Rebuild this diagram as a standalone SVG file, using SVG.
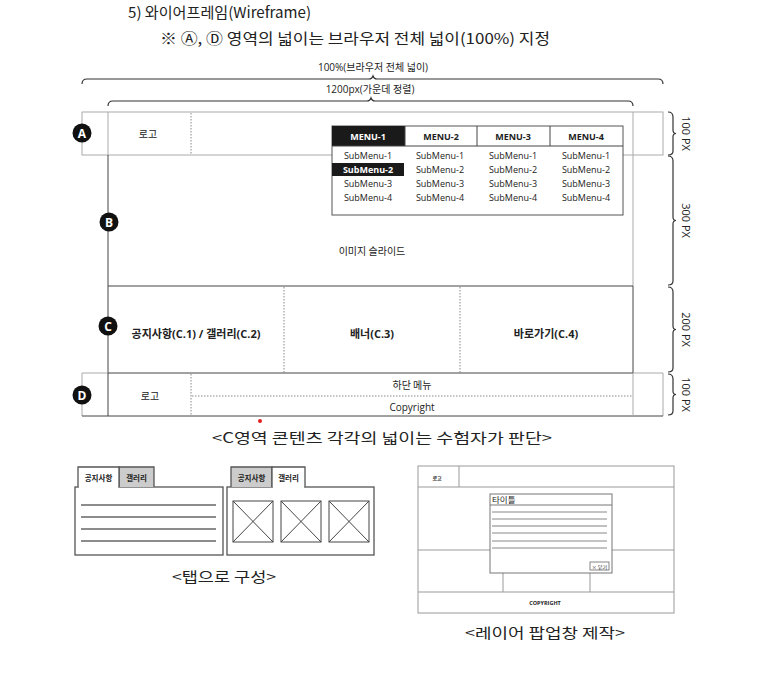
<svg xmlns="http://www.w3.org/2000/svg" width="765" height="687" viewBox="0 0 765 687">
<style>
.k{font-family:"Noto Sans CJK KR","Noto Sans",sans-serif;fill:#222}
.s{font-family:"Open Sans","Noto Sans CJK KR",sans-serif;fill:#222}
.b{font-weight:bold}
.lg{stroke:#aaa;fill:none;stroke-width:1}
.dk{stroke:#444;fill:none;stroke-width:1}
.dot{stroke:#888;fill:none;stroke-width:1;stroke-dasharray:1.5 1.5}
.br{stroke:#333;fill:none;stroke-width:1.2}
.circ{fill:#111}
.cl{font-family:"Open Sans","Noto Sans",sans-serif;font-weight:bold;fill:#fff;font-size:12px}
.ln{stroke:#666;stroke-width:1.5}
.pp{stroke:#999;fill:none;stroke-width:1}
</style>
<rect width="765" height="687" fill="#fff"/>

<!-- headings -->
<text class="k" x="128" y="18" font-size="15" textLength="183" lengthAdjust="spacingAndGlyphs">5) 와이어프레임(Wireframe)</text>
<text class="k" x="160" y="44" font-size="15" textLength="390" lengthAdjust="spacingAndGlyphs">※ Ⓐ, Ⓓ 영역의 넓이는 브라우저 전체 넓이(100%) 지정</text>

<!-- top dimension braces -->
<g id="dims-top">
<text class="s" x="373" y="71" font-size="10" text-anchor="middle">100%(브라우저 전체 넓이)</text>
<path class="br" d="M82,84 Q82,79 87,79 L369,79 Q372,79 373,76 Q374,79 377,79 L658,79 Q663,79 663,84"/>
<text class="s" x="370" y="93" font-size="10" text-anchor="middle">1200px(가운데 정렬)</text>
<path class="br" d="M108,106 Q108,101 113,101 L367,101 Q370,101 371,98 Q372,101 375,101 L628,101 Q633,101 633,106"/>
</g>

<!-- region A -->
<g id="region-a">
<rect class="lg" x="82" y="112" width="581" height="43"/>
<line class="lg" x1="108" y1="112" x2="108" y2="155"/>
<line class="lg" x1="633" y1="112" x2="633" y2="155"/>
<line class="dot" x1="191" y1="113" x2="191" y2="155"/>
<text class="k" x="148" y="138" font-size="10" text-anchor="middle">로고</text>
</g>

<!-- region B -->
<g id="region-b">
<line class="dk" x1="108" y1="155" x2="108" y2="286"/>
<line class="lg" x1="633" y1="155" x2="633" y2="286"/>
<text class="k" x="372" y="255" font-size="10" text-anchor="middle">이미지 슬라이드</text>
</g>

<!-- menu -->
<g id="menu">
<rect x="332" y="126" width="291" height="89" fill="#fff" stroke="#555"/>
<rect x="332" y="126" width="73" height="20" fill="#1a1a1a"/>
<line class="dk" x1="332" y1="146" x2="623" y2="146"/>
<line class="dk" x1="405" y1="126" x2="405" y2="146"/>
<line class="dk" x1="477" y1="126" x2="477" y2="146"/>
<line class="dk" x1="550" y1="126" x2="550" y2="146"/>
<text class="s b" x="368" y="140" font-size="9" text-anchor="middle" style="fill:#fff">MENU-1</text>
<text class="s b" x="441" y="140" font-size="9" text-anchor="middle">MENU-2</text>
<text class="s b" x="513" y="140" font-size="9" text-anchor="middle">MENU-3</text>
<text class="s b" x="586" y="140" font-size="9" text-anchor="middle">MENU-4</text>
<rect x="332" y="163" width="72" height="13" fill="#1a1a1a"/>
<g font-size="9">
<text class="s" x="368" y="159" text-anchor="middle">SubMenu-1</text>
<text class="s b" x="368" y="173" text-anchor="middle" style="fill:#fff">SubMenu-2</text>
<text class="s" x="368" y="187" text-anchor="middle">SubMenu-3</text>
<text class="s" x="368" y="201" text-anchor="middle">SubMenu-4</text>
<text class="s" x="440" y="159" text-anchor="middle">SubMenu-1</text>
<text class="s" x="440" y="173" text-anchor="middle">SubMenu-2</text>
<text class="s" x="440" y="187" text-anchor="middle">SubMenu-3</text>
<text class="s" x="440" y="201" text-anchor="middle">SubMenu-4</text>
<text class="s" x="513" y="159" text-anchor="middle">SubMenu-1</text>
<text class="s" x="513" y="173" text-anchor="middle">SubMenu-2</text>
<text class="s" x="513" y="187" text-anchor="middle">SubMenu-3</text>
<text class="s" x="513" y="201" text-anchor="middle">SubMenu-4</text>
<text class="s" x="586" y="159" text-anchor="middle">SubMenu-1</text>
<text class="s" x="586" y="173" text-anchor="middle">SubMenu-2</text>
<text class="s" x="586" y="187" text-anchor="middle">SubMenu-3</text>
<text class="s" x="586" y="201" text-anchor="middle">SubMenu-4</text>
</g>
</g>

<!-- region C -->
<g id="region-c">
<line class="dk" x1="108" y1="286" x2="633" y2="286"/>
<line class="dk" x1="108" y1="286" x2="108" y2="373"/>
<line class="dk" x1="633" y1="286" x2="633" y2="373"/>
<line class="dot" x1="284" y1="287" x2="284" y2="373"/>
<line class="dot" x1="460" y1="287" x2="460" y2="373"/>
<text class="s b" x="196" y="338" font-size="11" text-anchor="middle">공지사항(C.1) / 갤러리(C.2)</text>
<text class="s b" x="372" y="338" font-size="11" text-anchor="middle">배너(C.3)</text>
<text class="s b" x="546" y="338" font-size="11" text-anchor="middle">바로가기(C.4)</text>
</g>

<!-- region D -->
<g id="region-d">
<line class="dk" x1="108" y1="373" x2="633" y2="373"/>
<line class="lg" x1="82" y1="373" x2="108" y2="373"/>
<line class="lg" x1="633" y1="373" x2="663" y2="373"/>
<line class="lg" x1="82" y1="373" x2="82" y2="416"/>
<line class="lg" x1="663" y1="373" x2="663" y2="416"/>
<line class="dk" x1="82" y1="416" x2="663" y2="416"/>
<line class="dk" x1="108" y1="373" x2="108" y2="416"/>
<line class="lg" x1="633" y1="373" x2="633" y2="416"/>
<line class="dot" x1="191" y1="374" x2="191" y2="416"/>
<line class="dot" x1="192" y1="396" x2="633" y2="396"/>
<text class="k" x="150" y="400" font-size="10" text-anchor="middle">로고</text>
<text class="k" x="412" y="389" font-size="10" text-anchor="middle">하단 메뉴</text>
<text class="s" x="412" y="411" font-size="10" text-anchor="middle">Copyright</text>
</g>

<!-- markers -->
<g id="marker-a"><circle class="circ" cx="82" cy="133" r="9.5"/><text class="cl" x="82" y="137.5" text-anchor="middle">A</text></g>
<g id="marker-b"><circle class="circ" cx="109" cy="222" r="9.5"/><text class="cl" x="109" y="226.5" text-anchor="middle">B</text></g>
<g id="marker-c"><circle class="circ" cx="108" cy="326" r="9.5"/><text class="cl" x="108" y="330.5" text-anchor="middle">C</text></g>
<g id="marker-d"><circle class="circ" cx="82" cy="395" r="9.5"/><text class="cl" x="82" y="399.5" text-anchor="middle">D</text></g>

<!-- right braces -->
<g id="dims-right">
<path class="br" d="M668,112 Q673,112 673,117 L673,130 Q673,133.5 676,133.5 Q673,133.5 673,137 L673,151 Q673,155 668,155"/>
<path class="br" d="M668,156 Q673,156 673,161 L673,217 Q673,220.5 676,220.5 Q673,220.5 673,224 L673,281 Q673,285 668,285"/>
<path class="br" d="M668,287 Q673,287 673,292 L673,326 Q673,329.5 676,329.5 Q673,329.5 673,333 L673,368 Q673,372 668,372"/>
<path class="br" d="M668,374 Q673,374 673,379 L673,391 Q673,394.5 676,394.5 Q673,394.5 673,398 L673,411 Q673,415 668,415"/>
<g font-size="11">
<text class="s" transform="translate(682,133.5) rotate(90)" text-anchor="middle">100 PX</text>
<text class="s" transform="translate(682,220.5) rotate(90)" text-anchor="middle">300 PX</text>
<text class="s" transform="translate(682,329.5) rotate(90)" text-anchor="middle">200 PX</text>
<text class="s" transform="translate(682,394.5) rotate(90)" text-anchor="middle">100 PX</text>
</g>
</g>

<circle cx="260" cy="421" r="2" fill="#e02020"/>
<text class="k" x="382" y="443" font-size="14" text-anchor="middle" textLength="340" lengthAdjust="spacingAndGlyphs">&lt;C영역 콘텐츠 각각의 넓이는 수험자가 판단&gt;</text>

<!-- tab panel 1 -->
<g id="tab-notice">
<rect x="75" y="487" width="148" height="68" fill="#fff" stroke="#555" stroke-width="1.3"/>
<path d="M119,487 L119,467 L154,467 L154,487" fill="#ccc" stroke="#555" stroke-width="1.3"/>
<path d="M78,487 L78,467 L119,467 L119,487" fill="#fff" stroke="#555" stroke-width="1.3"/>
<line x1="79" y1="487" x2="118" y2="487" stroke="#fff" stroke-width="2"/>
<text class="k b" x="98.5" y="481" font-size="7.5" text-anchor="middle">공지사항</text>
<text class="k b" x="136.5" y="481" font-size="7.5" text-anchor="middle">갤러리</text>
<line class="ln" x1="81" y1="505" x2="216" y2="505"/>
<line class="ln" x1="81" y1="517" x2="216" y2="517"/>
<line class="ln" x1="81" y1="529" x2="216" y2="529"/>
<line class="ln" x1="81" y1="541" x2="216" y2="541"/>
</g>

<!-- tab panel 2 -->
<g id="tab-gallery">
<rect x="227" y="487" width="147" height="68" fill="#fff" stroke="#555" stroke-width="1.3"/>
<path d="M231,487 L231,467 L272,467 L272,487" fill="#ccc" stroke="#555" stroke-width="1.3"/>
<path d="M272,487 L272,467 L305,467 L305,487" fill="#fff" stroke="#555" stroke-width="1.3"/>
<line x1="273" y1="487" x2="304" y2="487" stroke="#fff" stroke-width="2"/>
<text class="k b" x="251.5" y="481" font-size="7.5" text-anchor="middle">공지사항</text>
<text class="k b" x="288.5" y="481" font-size="7.5" text-anchor="middle">갤러리</text>
<g stroke="#444" stroke-width="1" fill="none">
<rect x="233" y="501" width="40" height="41"/><path d="M233,501 L273,542 M273,501 L233,542"/>
<rect x="281" y="501" width="40" height="41"/><path d="M281,501 L321,542 M321,501 L281,542"/>
<rect x="329" y="501" width="40" height="41"/><path d="M329,501 L369,542 M369,501 L329,542"/>
</g>
</g>
<text class="k" x="224" y="582" font-size="14" text-anchor="middle" textLength="104" lengthAdjust="spacingAndGlyphs">&lt;탭으로 구성&gt;</text>

<!-- layer popup mockup -->
<g id="popup-mock">
<rect class="pp" x="418" y="466" width="256" height="147"/>
<line class="pp" x1="418" y1="487" x2="674" y2="487"/>
<line class="pp" x1="459" y1="466" x2="459" y2="487"/>
<line class="pp" x1="418" y1="550" x2="674" y2="550"/>
<line class="pp" x1="418" y1="592" x2="674" y2="592"/>
<line class="pp" x1="503" y1="550" x2="503" y2="592"/>
<line class="pp" x1="590" y1="550" x2="590" y2="592"/>
<text class="k b" x="437" y="480" font-size="5" text-anchor="middle">로고</text>
<text class="s b" x="545" y="605" font-size="5.5" text-anchor="middle">COPYRIGHT</text>
</g>
<g id="popup">
<rect x="490" y="494" width="122" height="79" fill="#fff" stroke="#777" stroke-width="1"/>
<line x1="490" y1="505" x2="612" y2="505" stroke="#777"/>
<text class="k" x="492" y="503" font-size="8.5">타이틀</text>
<g stroke="#888" stroke-width="1">
<line x1="492" y1="512" x2="607" y2="512"/>
<line x1="492" y1="519" x2="607" y2="519"/>
<line x1="492" y1="526" x2="607" y2="526" stroke="#aaa" stroke-width="1.5"/>
<line x1="492" y1="533" x2="607" y2="533"/>
<line x1="492" y1="541" x2="607" y2="541"/>
<line x1="492" y1="548" x2="607" y2="548"/>
</g>
<rect x="590" y="562" width="19" height="8" fill="#fff" stroke="#666" stroke-width="0.8"/>
<text class="k" x="599.5" y="568.5" font-size="5" text-anchor="middle">× 닫기</text>
</g>
<text class="k" x="545" y="638" font-size="14" text-anchor="middle" textLength="160" lengthAdjust="spacingAndGlyphs">&lt;레이어 팝업창 제작&gt;</text>
</svg>
